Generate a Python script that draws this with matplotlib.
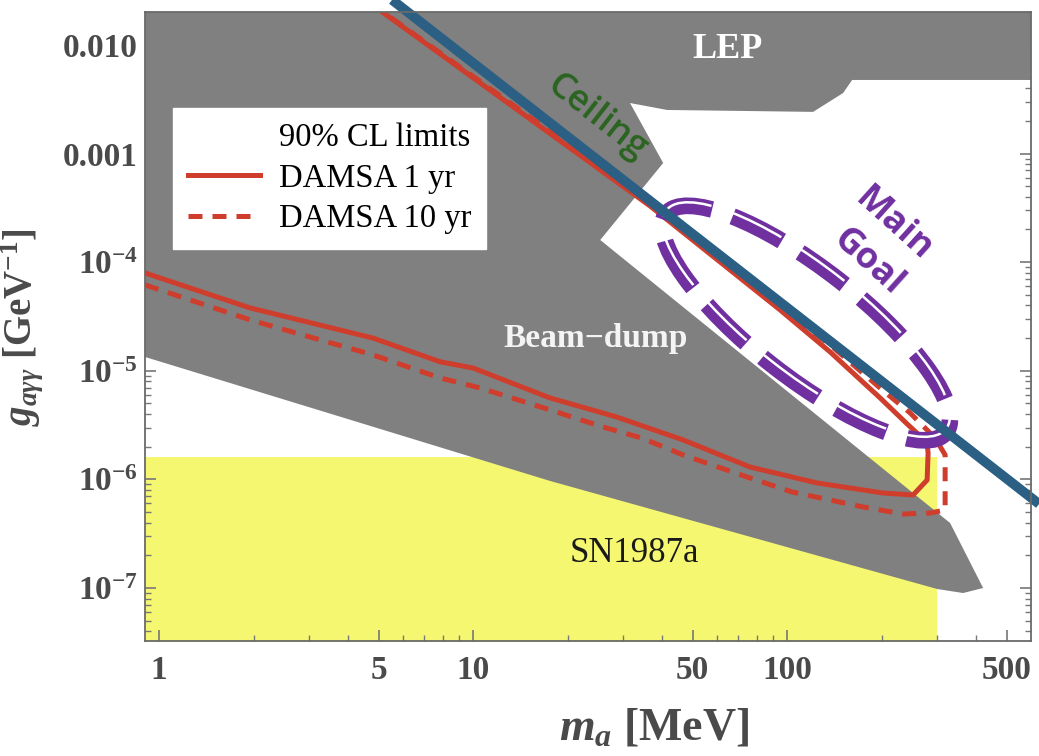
import matplotlib.pyplot as plt
import matplotlib.transforms as mtransforms
from matplotlib.lines import Line2D
from matplotlib.patches import Ellipse
from matplotlib.ticker import LogLocator, NullFormatter

plt.rcParams['font.family'] = 'Liberation Serif'
plt.rcParams['mathtext.fontset'] = 'custom'
plt.rcParams['mathtext.rm'] = 'Liberation Serif:bold'
plt.rcParams['mathtext.it'] = 'Liberation Serif:italic:bold'
plt.rcParams['mathtext.bf'] = 'Liberation Serif:bold'

# m_a in MeV, g_agg in GeV^-1

# grey excluded region (LEP + beam-dump), traced around its outline
excl_m = [0.85, 700, 700, 161.1, 150.8, 121.0, 41.5, 31.6, 40.3, 25.4,
          330.4, 421, 363.5, 300.4, 17.59, 0.902, 0.85]
excl_g = [0.03, 0.03, 4.76e-3, 4.76e-3, 3.61e-3, 2.42e-3, 2.52e-3, 2.92e-3,
          8.19e-4, 1.60e-4, 3.97e-7, 1.0e-7, 8.99e-8, 9.79e-8, 9.67e-7,
          1.34e-5, 1.41e-5]

# SN1987a
sn_m = [0.85, 300.4]
sn_g_top = 1.61e-6
sn_g_bottom = 1e-9

# DAMSA 90% CL, 1 yr
damsa1_m = [0.902, 1.949, 4.80, 7.85, 10.0, 17.59, 28.7, 46.6, 76.2, 124.6,
            202.2, 251.9, 279.2, 281.2, 279.2, 265.2, 241.1, 197.8, 137.1,
            95.0, 36.6, 5.24, 4.56]
damsa1_g = [7.95e-5, 3.79e-5, 2.00e-5, 1.21e-5, 1.06e-5, 5.62e-6, 3.75e-6,
            2.31e-6, 1.30e-6, 9.27e-7, 7.49e-7, 7.19e-7, 9.87e-7, 1.75e-6,
            2.12e-6, 2.51e-6, 3.24e-6, 5.62e-6, 1.49e-5, 3.63e-5, 3.29e-4,
            1.93e-2, 2.6e-2]

# DAMSA 90% CL, 10 yr
damsa10_m = [0.902, 1.949, 4.80, 7.85, 10.53, 17.59, 25.9, 34.5, 46.6, 76.2,
             103.7, 174.6, 234.1, 285.4, 318.6, 318.6, 296.0, 246.5, 197.8,
             137.1, 95.0, 36.6, 4.56]
damsa10_g = [6.17e-5, 2.94e-5, 1.40e-5, 8.59e-6, 6.94e-6, 4.36e-6, 3.04e-6,
             2.40e-6, 1.68e-6, 1.03e-6, 7.66e-7, 5.57e-7, 4.80e-7, 4.90e-7,
             5.23e-7, 1.68e-6, 2.40e-6, 4.09e-6, 6.94e-6, 1.73e-5, 3.87e-5,
             3.51e-4, 2.6e-2]

# "ceiling" line
ceiling_m = [5.52, 634.6]
ceiling_g = [0.026, 5.94e-7]

# "main goal" ellipse centre
goal_m, goal_g = 115.0, 2.75e-5

x_ticks = [1, 5, 10, 50, 100, 500]
x_ticklabels = ['1', '5', '10', '50', '100', '500']
y_ticks = [1e-2, 1e-3, 1e-4, 1e-5, 1e-6, 1e-7]
y_ticklabels = ['0.010', '0.001', r'$10^{-4}$', r'$10^{-5}$', r'$10^{-6}$',
                r'$10^{-7}$']

grey = '#808080'
yellow = '#f6f771'
red = '#cf3d2d'
blue = '#2b5f83'
purple = '#7030a0'
green = '#2a6420'
axcol = '#4a4a4a'

fig = plt.figure(figsize=(10.39, 7.56), dpi=100)
ax = fig.add_axes([0.1396, 0.1521, 0.8527, 0.8320])
ax.set_xscale('log')
ax.set_yscale('log')
ax.set_xlim(0.902, 598)
ax.set_ylim(3.25e-8, 0.0201)

ax.fill_between(sn_m, sn_g_bottom, sn_g_top, color=yellow, lw=0, zorder=1)
ax.fill(excl_m, excl_g, color=grey, lw=0, zorder=2)

ax.plot(damsa1_m, damsa1_g, color=red, lw=3.6, zorder=3)
ax.plot(damsa10_m, damsa10_g, color=red, lw=3.6, linestyle=(0, (2.8, 2.0)),
        zorder=3)

# dashed double-stroke ellipse, sized in inches around a data point
trans = fig.dpi_scale_trans + mtransforms.ScaledTranslation(goal_m, goal_g,
                                                            ax.transData)
ax.add_patch(Ellipse((0, 0), 3.55, 1.08, angle=-38, transform=trans,
                     fill=False, ec=purple, lw=12,
                     linestyle=(0, (3.3, 1.3)), zorder=4))
ax.add_patch(Ellipse((0, 0.035), 3.55, 1.08, angle=-38, transform=trans,
                     fill=False, ec='white', lw=1.8,
                     linestyle=(0, (22.0, 8.7)), zorder=4))

ax.plot(ceiling_m, ceiling_g, color=blue, lw=7, solid_capstyle='butt',
        clip_on=False, zorder=5)

ax.text(64.4, 9.0e-3, 'LEP', color='white', fontsize=26, fontweight='bold',
        ha='center', va='center', zorder=6)
ax.text(24.5, 2.0e-5, 'Beam\u2212dump', color='#f4f4f4', fontsize=24,
        fontweight='bold', ha='center', va='center', zorder=6)
ax.text(32.6, 2.1e-7, 'SN1987a', color='#1a1a1a', fontsize=25,
        ha='center', va='center', zorder=6)
ax.text(24.8, 2.13e-3, 'Ceiling', color=green, fontsize=26,
        family='Open Sans', fontweight='semibold', rotation=-38,
        ha='center', va='center', rotation_mode='anchor', zorder=6)
ax.text(217.6, 2.2e-4, 'Main', color=purple, fontsize=26, family='Open Sans',
        fontweight='bold', rotation=-42, ha='center', va='center',
        rotation_mode='anchor', zorder=6)
ax.text(181.1, 9.84e-5, 'Goal', color=purple, fontsize=26, family='Open Sans',
        fontweight='bold', rotation=-42, ha='center', va='center',
        rotation_mode='anchor', zorder=6)

handles = [Line2D([], [], color='none'),
           Line2D([], [], color=red, lw=3.6),
           Line2D([], [], color=red, lw=3.6, linestyle=(0, (2.8, 2.0)))]
labels = ['90% CL limits', 'DAMSA 1 yr', 'DAMSA 10 yr']
leg = ax.legend(handles, labels, loc='upper left',
                bbox_to_anchor=(0.0316, 0.847), fontsize=23.5, frameon=True,
                fancybox=False, framealpha=1, edgecolor='white',
                handlelength=2.2, handletextpad=0.6, borderpad=0.45,
                labelspacing=0.3, borderaxespad=0)
leg.set_zorder(7)

ax.set_xticks(x_ticks)
ax.set_xticklabels(x_ticklabels)
ax.set_yticks(y_ticks)
ax.set_yticklabels(y_ticklabels)
ax.xaxis.set_minor_locator(LogLocator(base=10, subs=range(2, 10), numticks=20))
ax.yaxis.set_minor_locator(LogLocator(base=10, subs=range(2, 10), numticks=20))
ax.xaxis.set_minor_formatter(NullFormatter())
ax.yaxis.set_minor_formatter(NullFormatter())
ax.tick_params(which='both', direction='in', top=True, right=True,
               color='#777777', labelcolor=axcol)
ax.tick_params(which='major', length=8, width=1.2, labelsize=24)
ax.tick_params(which='minor', length=4, width=1.0)
ax.tick_params(axis='x', which='major', pad=10)
ax.tick_params(axis='y', which='major', pad=5)
for lab in ax.get_xticklabels() + ax.get_yticklabels():
    lab.set_fontweight('bold')
for sp in ax.spines.values():
    sp.set_color('#6a6a6a')
    sp.set_linewidth(1.3)
    sp.set_zorder(8)

ax.set_xlabel(r'$m_a$ [MeV]', fontsize=33, color=axcol, fontweight='bold')
ax.xaxis.set_label_coords(0.575, -0.105)
ax.set_ylabel(r'$g_{a\gamma\gamma}$ [GeV$^{-1}$]', fontsize=28, color=axcol,
              fontweight='bold')
ax.yaxis.set_label_coords(-0.113, 0.5)

fig.savefig('out.png', dpi=100)
